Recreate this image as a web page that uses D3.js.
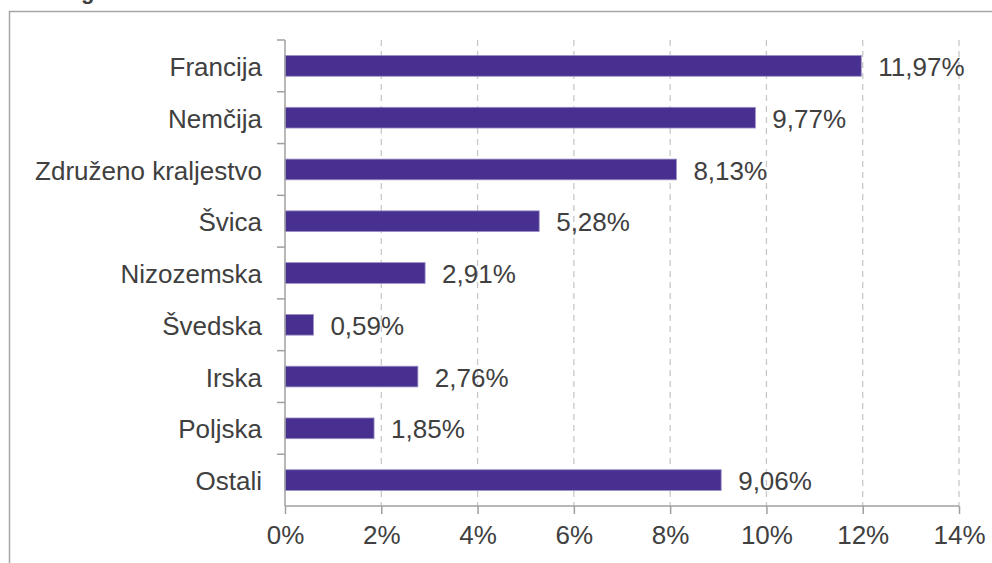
<!DOCTYPE html>
<html>
<head>
<meta charset="utf-8">
<style>
    body { margin: 0; background: #fff; }
    text { font-family: "Liberation Sans", Arial, sans-serif; fill: #404040; }
</style>
</head>
<body>
<script src="https://d3js.org/d3.v7.min.js"></script>
<script>
    const width = 992;
    const height = 563;

    const categories = ["Francija", "Nemčija", "Združeno kraljestvo", "Švica", "Nizozemska", "Švedska", "Irska", "Poljska", "Ostali"];
    const values = [11.97, 9.77, 8.13, 5.28, 2.91, 0.59, 2.76, 1.85, 9.06];
    const valueLabels = ["11,97%", "9,77%", "8,13%", "5,28%", "2,91%", "0,59%", "2,76%", "1,85%", "9,06%"];
    const ticks = [0, 2, 4, 6, 8, 10, 12, 14];

    const plotLeft = 285, plotRight = 959, plotTop = 40, plotBottom = 506;
    const fontSize = "26px";

    const svg = d3.select("body").append("svg")
        .attr("width", width).attr("height", height);

    // outer frame (only top and left edges are inside the picture)
    svg.append("path")
        .attr("d", `M9.5,${height} V11.5 H${width}`)
        .attr("fill", "none").attr("stroke", "#a6a6a6").attr("stroke-width", 1.5);

    // title, cut off by the top of the picture
    svg.append("text").attr("x", 81).attr("y", -1)
        .style("font-size", "22px").style("font-weight", "bold")
        .text("g");

    const x = d3.scaleLinear().domain([0, 14]).range([plotLeft, plotRight]);
    const y = d3.scaleBand().domain(categories).range([plotTop, plotBottom]).paddingInner(0.6).paddingOuter(0.3);
    const yEdge = d3.scaleBand().domain(categories).range([plotTop, plotBottom]);

    // grid
    svg.append("g").selectAll("line").data(ticks.filter(d => d > 0)).join("line")
        .attr("x1", d => x(d)).attr("x2", d => x(d))
        .attr("y1", plotTop).attr("y2", plotBottom)
        .attr("stroke", "#c8c8c8").attr("stroke-width", 1.3)
        .attr("stroke-dasharray", "6,5");

    // bars
    svg.append("g").selectAll("rect").data(values).join("rect")
        .attr("x", x(0))
        .attr("y", (d, i) => y(categories[i]))
        .attr("width", d => x(d) - x(0))
        .attr("height", y.bandwidth())
        .attr("fill", "#47308f")
        .attr("stroke", "#9b8fc4").attr("stroke-width", 0.8);

    // value labels
    svg.append("g").selectAll("text").data(values).join("text")
        .attr("x", d => x(d) + 17)
        .attr("y", (d, i) => y(categories[i]) + y.bandwidth() / 2 + 1)
        .attr("dy", "0.35em")
        .style("font-size", fontSize)
        .text((d, i) => valueLabels[i]);

    // x axis
    const xAxis = svg.append("g").attr("transform", `translate(0,${plotBottom})`)
        .call(d3.axisBottom(x).tickValues(ticks).tickFormat(d => d + "%").tickSize(8).tickPadding(12));
    xAxis.select(".domain").attr("stroke", "#a0a0a0").attr("stroke-width", 1.5).attr("d", `M${plotLeft},0H${plotRight}`);
    xAxis.selectAll(".tick line").attr("stroke", "#a0a0a0").attr("stroke-width", 1.5);
    xAxis.selectAll(".tick text").style("font-size", fontSize).attr("fill", "#404040")
        .style("font-family", "'Liberation Sans', Arial, sans-serif");

    // y axis
    const yAxis = svg.append("g").attr("transform", `translate(${plotLeft},0)`);
    yAxis.append("line").attr("x1", 0).attr("x2", 0).attr("y1", plotTop).attr("y2", plotBottom)
        .attr("stroke", "#a0a0a0").attr("stroke-width", 1.5);
    const edges = categories.map(c => yEdge(c));
    yAxis.selectAll("line.edge").data(edges).join("line").attr("class", "edge")
        .attr("x1", -8).attr("x2", 0).attr("y1", d => d).attr("y2", d => d)
        .attr("stroke", "#a0a0a0").attr("stroke-width", 1.5);
    yAxis.selectAll("text").data(categories).join("text")
        .attr("x", -23)
        .attr("y", d => y(d) + y.bandwidth() / 2 + 1)
        .attr("dy", "0.35em")
        .attr("text-anchor", "end")
        .style("font-size", fontSize)
        .text(d => d);
</script>
</body>
</html>
